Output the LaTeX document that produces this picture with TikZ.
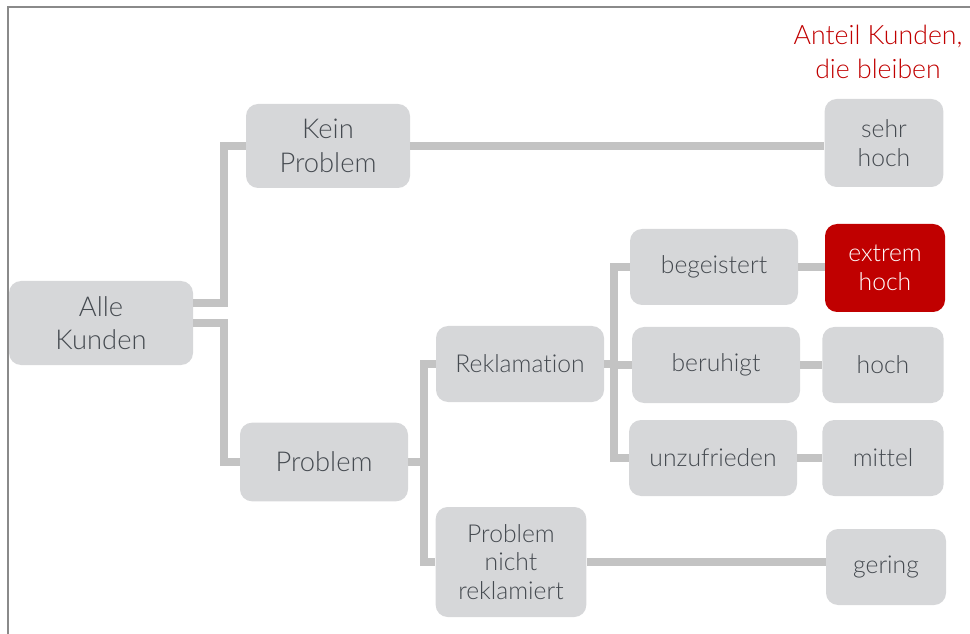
\documentclass[tikz,border=0pt]{standalone}
\usepackage{fontspec}
\setmainfont{Lato}[UprightFont={* Light},Ligatures=NoCommon]
\usetikzlibrary{positioning}

\definecolor{boxgray}{HTML}{D6D7D9}
\definecolor{linkgray}{HTML}{C3C3C3}
\definecolor{textgray}{HTML}{454A50}
\definecolor{framegray}{HTML}{8A8A8A}
\definecolor{accentred}{HTML}{C00000}

\tikzset{
  box/.style={fill=boxgray,text=textgray,rounded corners=9pt,align=center,inner sep=0pt},
  bigbox/.style={box,font=\fontsize{20.5}{25}\selectfont},
  smallbox/.style={box,font=\fontsize{18.5}{21.5}\selectfont},
  hot/.style={smallbox,fill=accentred,text=white},
  link/.style={draw=linkgray,line width=6pt},
  frame/.style={draw=framegray,line width=1.5pt}
}

\begin{document}
\begin{tikzpicture}[x=0.75pt,y=-0.75pt]

\useasboundingbox (0,0) rectangle (970,634);
\draw[frame] (970,7.5) -- (7.5,7.5) -- (7.5,634);

% first level
\node[bigbox,minimum width=138pt,minimum height=63pt] (alle) at (101,323) {Alle\\Kunden};
\node[bigbox,minimum width=123pt,minimum height=63pt] (kein) at (328,146) {Kein\\Problem};
\node[bigbox,minimum width=126pt,minimum height=59pt] (prob) at (324,462) {Problem};

% second level
\node[smallbox,minimum width=126pt,minimum height=57pt] (rekl) at (520,364) {Reklamation};
\node[smallbox,minimum width=113pt,minimum height=82.5pt] (pnr) at (511,562) {Problem\\nicht\\reklamiert};

% third level
\node[smallbox,minimum width=126pt,minimum height=57pt] (beg) at (714,267) {begeistert};
\node[smallbox,minimum width=126pt,minimum height=57pt] (ber) at (716,365) {beruhigt};
\node[smallbox,minimum width=126pt,minimum height=57pt] (unz) at (713,458) {unzufrieden};

% outcomes
\node[font=\fontsize{20}{25}\selectfont,text=accentred,align=center] (anteil) at (878,52) {Anteil Kunden,\\die bleiben};
\node[smallbox,minimum width=89pt,minimum height=66pt] (sehr) at (884,143) {sehr\\hoch};
\node[hot,minimum width=90pt,minimum height=66pt] (ext) at (885,268) {extrem\\hoch};
\node[smallbox,minimum width=91pt,minimum height=57pt] (hoch) at (883,365) {hoch};
\node[smallbox,minimum width=91pt,minimum height=57pt] (mit) at (883,458) {mittel};
\node[smallbox,minimum width=90pt,minimum height=57pt] (ger) at (886,567) {gering};

% junctions
\coordinate (ja) at (224,0);
\coordinate (jb) at (424,0);
\coordinate (jc) at (614,0);

% links
\draw[link] ([yshift=15pt]alle.east) -| (ja |- kein.west) -- (kein.west);
\draw[link] (alle.east) -| (ja |- prob.west) -- (prob.west);
\draw[link] (prob.east) -| (jb |- rekl.west) -- (rekl.west);
\draw[link] (prob.east) -| (jb |- pnr.west) -- (pnr.west);
\draw[link] (rekl.east) -| (jc |- beg.west) -- (beg.west);
\draw[link] (rekl.east) -| (jc |- ber.west) -- (ber.west);
\draw[link] (rekl.east) -| (jc |- unz.west) -- (unz.west);

\draw[link] (kein.east) -- (kein.east -| sehr.west);
\draw[link] (beg.east) -- (beg.east -| ext.west);
\draw[link] (ber.east) -- (ber.east -| hoch.west);
\draw[link] (unz.east) -- (unz.east -| mit.west);
\draw[link] (pnr.east) -- (pnr.east -| ger.west);

\end{tikzpicture}
\end{document}
